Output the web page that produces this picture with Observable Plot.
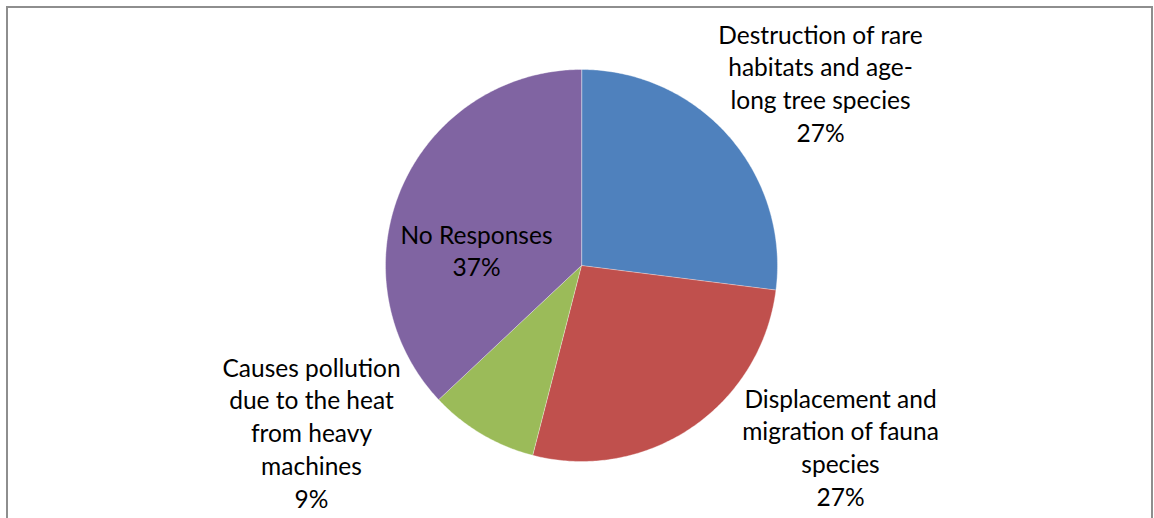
<!DOCTYPE html>
<html>
<head>
<meta charset="utf-8">
<script src="https://cdn.jsdelivr.net/npm/d3@7"></script>
<script src="https://cdn.jsdelivr.net/npm/@observablehq/plot@0.6"></script>
<style>
  html, body { margin: 0; padding: 0; background: #fff; }
  #wrap { position: relative; width: 1154px; height: 518px; overflow: hidden; }
  #frame {
    position: absolute; left: 6px; top: 6px; width: 1143px; height: 600px;
    border: 2px solid #8e8e8e; box-sizing: content-box;
  }
  #chart { position: absolute; left: 0; top: 0; }
</style>
</head>
<body>
<div id="wrap"><div id="frame"></div><div id="chart"></div></div>
<script>
// Survey responses: perceived environmental impact (share of responses, %)
const categories = [
  "Destruction of rare\nhabitats and age-\nlong tree species",
  "Displacement and\nmigration of fauna\nspecies",
  "Causes pollution\ndue to the heat\nfrom heavy\nmachines",
  "No Responses"
];
const shares = [27, 27, 9, 37];
const colors = ["#4F81BD", "#C0504D", "#9BBB59", "#8064A2"];

// Layout
const W = 1154, H = 518;
const cx = 581, cy = 265, R = 196;
const fontSize = 24.5;
const lineHeight = 1.34;
// label anchors: centre x and first-line baseline y, one per category
const labelAnchors = [[820, 43], [840, 407], [311, 376], [476, 243]];

// Slice geometry from d3.pie (clockwise from 12 o'clock, data order)
const arcs = d3.pie().sort(null).value(d => d)(shares);
const slicePoints = [];
arcs.forEach((a, i) => {
  const name = categories[i];
  slicePoints.push({name, x: cx, y: cy});
  const steps = Math.max(8, Math.ceil((a.endAngle - a.startAngle) / 0.01));
  for (let k = 0; k <= steps; k++) {
    const t = a.startAngle + (a.endAngle - a.startAngle) * k / steps;
    slicePoints.push({name, x: cx + R * Math.sin(t), y: cy - R * Math.cos(t)});
  }
});

const labels = categories.map((name, i) => ({
  text: name + "\n" + shares[i] + "%",
  x: labelAnchors[i][0],
  y: labelAnchors[i][1]
}));

const chart = Plot.plot({
  width: W,
  height: H,
  margin: 0,
  x: {domain: [0, W], range: [0, W], axis: null},
  y: {domain: [0, H], range: [0, H], axis: null},
  color: {domain: categories, range: colors},
  style: {background: "transparent", fontFamily: "Lato, 'Open Sans', sans-serif"},
  marks: [
    Plot.line(slicePoints, {
      x: "x", y: "y", z: "name", fill: "name",
      stroke: "#ffffff", strokeWidth: 0.6, strokeOpacity: 0.6,
      curve: "linear-closed"
    }),
    Plot.text(labels, {
      x: "x", y: "y", text: "text",
      textAnchor: "middle", lineAnchor: "top",
      // first line's baseline sits on the anchor y
      dy: -0.71 * lineHeight * fontSize,
      lineHeight: lineHeight,
      fontSize: fontSize,
      fill: "#000"
    })
  ]
});
document.getElementById("chart").appendChild(chart);
</script>
</body>
</html>
